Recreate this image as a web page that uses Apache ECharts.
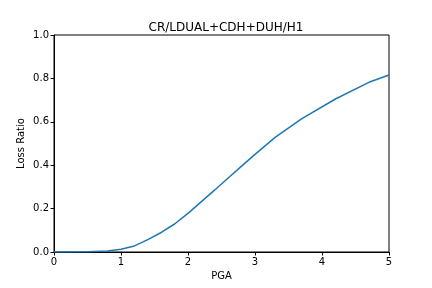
<!DOCTYPE html>
<html>
<head>
<meta charset="utf-8">
<script src="https://cdn.jsdelivr.net/npm/echarts@6/dist/echarts.min.js"></script>
<style>
  html, body { margin: 0; padding: 0; background: #fff; }
  #chart { width: 432px; height: 288px; }
</style>
</head>
<body>
<div id="chart"></div>
<script>
// 数据
var pga = [0, 0.5, 0.8, 1.0, 1.2, 1.4, 1.6, 1.8, 2.0, 2.2, 2.4, 2.6, 2.8, 3.0, 3.3, 3.7, 4.2, 4.7, 5.0];
var lossRatio = [0, 0.001, 0.005, 0.013, 0.028, 0.057, 0.09, 0.129, 0.178, 0.232, 0.286, 0.341, 0.396, 0.45, 0.528, 0.615, 0.705, 0.782, 0.816];
var titleText = 'CR/LDUAL+CDH+DUH/H1';

var points = [];
for (var i = 0; i < pga.length; i++) {
    points.push([pga[i], lossRatio[i]]);
}

var chart = echarts.init(document.getElementById('chart'));
var font = 'DejaVu Sans';
var option = {
    animation: false,
    title: {
        text: titleText,
        left: 221,
        textAlign: 'center',
        top: 17,
        textStyle: { fontFamily: font, fontSize: 12, fontWeight: 'normal', color: '#000' }
    },
    grid: {
        left: 54, right: 43, top: 35, bottom: 36,
        show: true, borderColor: '#000', borderWidth: 1
    },
    xAxis: {
        type: 'value',
        min: 0, max: 5, interval: 1,
        name: 'PGA',
        nameLocation: 'middle',
        nameGap: 19,
        nameMoveOverlap: false,
        nameTextStyle: { fontFamily: font, fontSize: 10, color: '#000' },
        axisLine: { show: true, lineStyle: { color: '#000' } },
        axisTick: { show: true, length: 3.5, lineStyle: { color: '#000' } },
        axisLabel: { fontFamily: font, fontSize: 10, color: '#000', margin: 5 },
        splitLine: { show: false }
    },
    yAxis: {
        type: 'value',
        min: 0, max: 1, interval: 0.2,
        name: 'Loss Ratio',
        nameLocation: 'middle',
        nameGap: 28,
        nameMoveOverlap: false,
        nameTextStyle: { fontFamily: font, fontSize: 10, color: '#000' },
        axisLine: { show: true, lineStyle: { color: '#000' } },
        axisTick: { show: true, length: 3.5, lineStyle: { color: '#000' } },
        axisLabel: {
            fontFamily: font, fontSize: 10, color: '#000', margin: 5,
            formatter: function (v) { return v.toFixed(1); }
        },
        splitLine: { show: false }
    },
    series: [{
        type: 'line',
        data: points,
        showSymbol: false,
        smooth: false,
        lineStyle: { color: '#1f77b4', width: 1.5 },
        itemStyle: { color: '#1f77b4' }
    }]
};
chart.setOption(option);
</script>
</body>
</html>
